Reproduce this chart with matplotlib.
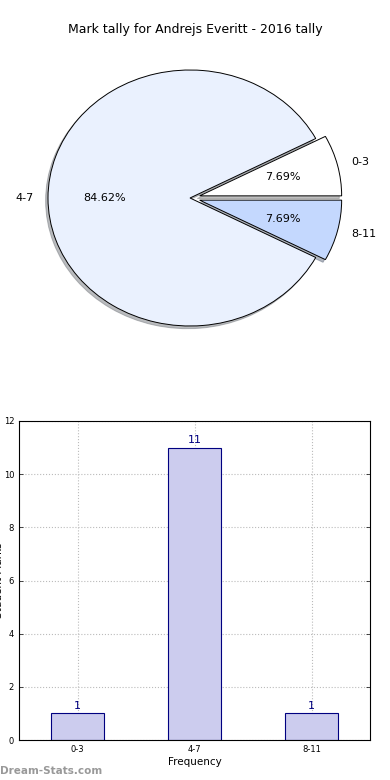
import matplotlib
matplotlib.use('Agg')
import matplotlib.pyplot as plt

# Dados do gráfico
faixas = ['0-3', '4-7', '8-11']
contagens = [1, 11, 1]
cores_pizza = ['#ffffff', '#eaf1fe', '#c4d8fe']
afastamento = [0.07, 0.0, 0.07]

fig = plt.figure(figsize=(3.9, 7.8), dpi=100)

# Pizza (proporção não igual, como no original)
W, H = 390.0, 780.0
ax1 = fig.add_axes([12.5 / W, 1 - 358 / H, 355 / W, 320 / H])
ax1.pie(contagens, labels=faixas, colors=cores_pizza, explode=afastamento,
        autopct='%.2f%%', pctdistance=0.6, labeldistance=1.1, startangle=0,
        shadow={'ox': -0.012, 'oy': -0.015, 'shade': 0.5},
        wedgeprops={'edgecolor': 'black', 'linewidth': 0.7},
        textprops={'fontsize': 8})
ax1.set_aspect('auto')
ax1.set_xlim(-1.25, 1.25)
ax1.set_ylim(-1.25, 1.25)
fig.text(0.5, 1 - 30 / H, 'Mark tally for Andrejs Everitt - 2016 tally',
         ha='center', va='center', fontsize=9)

# Barras
ax2 = fig.add_axes([19 / W, 1 - 740 / H, 351 / W, 319 / H])
x = list(range(len(faixas)))
ax2.bar(x, contagens, width=0.45, color='#ccccee', edgecolor='#000080', linewidth=0.8, zorder=2)
for xi, c in zip(x, contagens):
    ax2.text(xi, c + 0.1, str(c), ha='center', va='bottom', color='#000080', fontsize=8)
ax2.set_xlim(-0.5, 2.5)
ax2.set_ylim(0, 12)
ax2.set_xticks(x)
ax2.set_xticklabels(faixas)
ax2.set_yticks(range(0, 13, 2))
ax2.tick_params(direction='in', labelsize=6, top=False, right=True, length=3, width=0.5)
ax2.grid(True, linestyle=':', color='#bbbbbb', linewidth=0.8, zorder=0)
ax2.set_xlabel('Frequency', fontsize=7.5, labelpad=2)
ax2.set_ylabel('Student Marks', fontsize=7.5)
ax2.yaxis.set_label_coords(-0.044, 0.5)

fig.text(0.0, 1 - 771 / H, 'Dream-Stats.com', ha='left', va='center',
         fontsize=7.5, color='#999999', fontweight='bold')

fig.savefig('out.png', dpi=100)
